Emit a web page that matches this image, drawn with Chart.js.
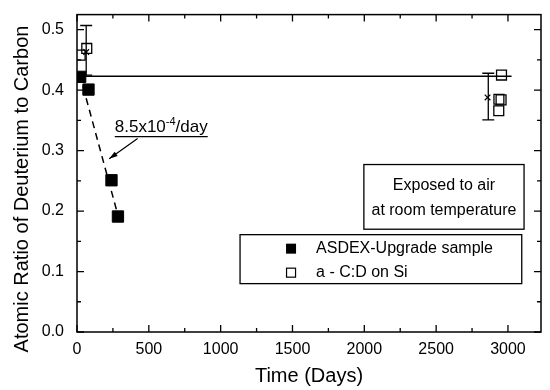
<!DOCTYPE html>
<html>
<head>
<meta charset="utf-8">
<script src="https://cdn.jsdelivr.net/npm/chart.js@4"></script>
<style>
    body { margin: 0; background: #fff; }
    #wrap { width: 550px; height: 390px; }
</style>
</head>
<body>
<div id="wrap"><canvas id="deuterium_graph" width="550" height="390"></canvas></div>
<script>
// ASDEX-Upgrade sample (filled squares)
const asdex_days    = [22, 80, 240, 285];
const asdex_ratio   = [0.422, 0.401, 0.251, 0.191];
// a - C:D on Si (open squares)
const acd_days      = [22, 68, 2955, 2937, 2952, 2936];
const acd_ratio     = [0.458, 0.469, 0.425, 0.385, 0.384, 0.366];
// means of the a-C:D groups with error bars
const mean_days     = [64, 2858];
const mean_ratio    = [0.463, 0.388];
const err_low       = [0.425, 0.351];
const err_high      = [0.507, 0.428];
// horizontal level line and dashed fit
const level_days    = [0, 3025];
const level_ratio   = [0.423, 0.423];
const fit_days      = [20, 283];
const fit_ratio     = [0.425, 0.195];
// axes
const x_ticks       = [0, 500, 1000, 1500, 2000, 2500, 3000];
const x_minor       = [250, 750, 1250, 1750, 2250, 2750];
const y_ticks       = [0.0, 0.1, 0.2, 0.3, 0.4, 0.5];
const y_minor       = [0.05, 0.15, 0.25, 0.35, 0.45];
const x_max         = 3230;
const y_max         = 0.525;

const FONT = "'Liberation Sans', Arial, sans-serif";

function pts(xs, ys){
    let out = [];
    for (let i=0; i<xs.length; i++){
        out.push({x: xs[i], y: ys[i]});
    }
    return out;
}

const deco_plugin = {
    id: "deco",
    afterDatasetsDraw(chart){
        const ctx = chart.ctx;
        const a   = chart.chartArea;
        const xs  = chart.scales.x;
        const ys  = chart.scales.y;
        const px  = v => xs.getPixelForValue(v);
        const py  = v => ys.getPixelForValue(v);
        ctx.save();
        ctx.strokeStyle = "#000";
        ctx.fillStyle   = "#000";

        // frame
        ctx.lineWidth = 1.5;
        ctx.strokeRect(a.left, a.top, a.right - a.left, a.bottom - a.top);

        // inward ticks on all four sides
        ctx.lineWidth = 1.3;
        ctx.beginPath();
        for (let v of x_ticks.concat(x_minor)){
            let len = x_ticks.includes(v) ? 7 : 4;
            let x = px(v);
            ctx.moveTo(x, a.bottom); ctx.lineTo(x, a.bottom - len);
            ctx.moveTo(x, a.top);    ctx.lineTo(x, a.top + len);
        }
        for (let v of y_ticks.concat(y_minor)){
            let len = y_ticks.includes(v) ? 7 : 4;
            let y = py(v);
            ctx.moveTo(a.left, y);  ctx.lineTo(a.left + len, y);
            ctx.moveTo(a.right, y); ctx.lineTo(a.right - len, y);
        }
        ctx.stroke();

        // error bars
        ctx.lineWidth = 1.3;
        ctx.beginPath();
        for (let i=0; i<mean_days.length; i++){
            let x  = px(mean_days[i] + (i == 1 ? 5 : 0));
            let y0 = py(err_low[i]);
            let y1 = py(err_high[i]);
            ctx.moveTo(x, y0); ctx.lineTo(x, y1);
            ctx.moveTo(x - 6, y0); ctx.lineTo(x + 6, y0);
            ctx.moveTo(x - 6, y1); ctx.lineTo(x + 6, y1);
        }
        ctx.stroke();

        // slope note with arrow
        let tx = px(263), ty = py(0.330);
        ctx.font = "17px " + FONT;
        ctx.textBaseline = "alphabetic";
        ctx.textAlign = "left";
        let p1 = "8.5x10", p2 = "-4", p3 = "/day";
        ctx.fillText(p1, tx, ty);
        let w1 = ctx.measureText(p1).width;
        ctx.font = "11px " + FONT;
        ctx.fillText(p2, tx + w1, ty - 7);
        let w2 = ctx.measureText(p2).width;
        ctx.font = "17px " + FONT;
        ctx.fillText(p3, tx + w1 + w2, ty);
        let w3 = ctx.measureText(p3).width;
        ctx.lineWidth = 1.2;
        ctx.beginPath();
        ctx.moveTo(tx, py(0.323)); ctx.lineTo(tx + w1 + w2 + w3, py(0.323));
        let ax0 = px(422), ay0 = py(0.320), ax1 = px(224), ay1 = py(0.2864);
        ctx.moveTo(ax0, ay0); ctx.lineTo(ax1, ay1);
        ctx.stroke();
        let ang = Math.atan2(ay1 - ay0, ax1 - ax0);
        ctx.beginPath();
        ctx.moveTo(ax1, ay1);
        ctx.lineTo(ax1 - 9*Math.cos(ang - 0.3), ay1 - 9*Math.sin(ang - 0.3));
        ctx.lineTo(ax1 - 9*Math.cos(ang + 0.3), ay1 - 9*Math.sin(ang + 0.3));
        ctx.closePath();
        ctx.fill();

        // condition box
        ctx.lineWidth = 1.3;
        let bx0 = px(1997), bx1 = px(3112), by0 = py(0.277), by1 = py(0.170);
        ctx.strokeRect(bx0, by0, bx1 - bx0, by1 - by0);
        ctx.font = "16px " + FONT;
        ctx.textAlign = "center";
        ctx.textBaseline = "middle";
        ctx.fillText("Exposed to air", (bx0 + bx1)/2, by0 + 21);
        ctx.fillText("at room temperature", (bx0 + bx1)/2, by0 + 46);

        // legend box
        let lx0 = px(1135), lx1 = px(3096), ly0 = py(0.161), ly1 = py(0.080);
        ctx.strokeRect(lx0, ly0, lx1 - lx0, ly1 - ly0);
        ctx.textAlign = "left";
        let mx = lx0 + 51;
        ctx.fillRect(mx - 5, ly0 + 14 - 5, 10, 10);
        ctx.lineWidth = 1.2;
        ctx.strokeRect(mx - 4.5, ly0 + 38 - 4.5, 9, 9);
        ctx.fillText("ASDEX-Upgrade sample", lx0 + 76, ly0 + 14);
        ctx.fillText("a - C:D on Si", lx0 + 76, ly0 + 38);

        // y axis title
        ctx.save();
        ctx.translate(22, 189);
        ctx.rotate(-Math.PI/2);
        ctx.font = "20px " + FONT;
        ctx.textAlign = "center";
        ctx.fillText("Atomic Ratio of Deuterium to Carbon", 0, 0);
        ctx.restore();

        ctx.restore();
    }
};

const ctx = document.getElementById("deuterium_graph").getContext("2d");
const myChart = new Chart(ctx, {
    type: "scatter",
    data: {
        datasets: [
            {
                label: "level",
                type: "line",
                data: pts(level_days, level_ratio),
                borderColor: "#000",
                borderWidth: 1.3,
                pointRadius: 0
            },
            {
                label: "fit",
                type: "line",
                data: pts(fit_days, fit_ratio),
                borderColor: "#000",
                borderWidth: 1.5,
                borderDash: [7, 5],
                pointRadius: 0
            },
            {
                label: "ASDEX-Upgrade sample",
                data: pts(asdex_days, asdex_ratio),
                pointStyle: "rect",
                pointRadius: 8,
                backgroundColor: "#000",
                borderColor: "#000",
                borderWidth: 1
            },
            {
                label: "a - C:D on Si",
                data: pts(acd_days, acd_ratio),
                pointStyle: "rect",
                pointRadius: 7,
                backgroundColor: "rgba(255,255,255,0)",
                borderColor: "#000",
                borderWidth: 1.3
            },
            {
                label: "mean",
                data: pts(mean_days, mean_ratio),
                pointStyle: "crossRot",
                pointRadius: 4,
                borderColor: "#000",
                borderWidth: 1.2
            }
        ]
    },
    options: {
        responsive: false,
        animation: false,
        layout: {
            padding: {top: 10, right: 2, left: 0, bottom: 0}
        },
        scales: {
            x: {
                type: "linear",
                min: 0,
                max: x_max,
                afterBuildTicks: s => { s.ticks = x_ticks.map(v => ({value: v})); },
                afterFit: s => { s.height = 58; },
                grid: { display: false },
                border: { display: false },
                ticks: {
                    color: "#000",
                    font: { family: FONT, size: 16 },
                    padding: 0,
                    maxRotation: 0,
                    callback: v => String(v)
                },
                title: {
                    display: true,
                    text: "Time (Days)",
                    color: "#000",
                    font: { family: FONT, size: 20 },
                    padding: { top: 0, bottom: 2 }
                }
            },
            y: {
                type: "linear",
                min: 0,
                max: y_max,
                afterBuildTicks: s => { s.ticks = y_ticks.map(v => ({value: v})); },
                afterFit: s => { s.width = 77; },
                grid: { display: false },
                border: { display: false },
                ticks: {
                    color: "#000",
                    font: { family: FONT, size: 16 },
                    padding: 5,
                    callback: v => v.toFixed(1)
                }
            }
        },
        plugins: {
            legend: { display: false },
            tooltip: { enabled: false }
        }
    },
    plugins: [deco_plugin]
});
</script>
</body>
</html>
